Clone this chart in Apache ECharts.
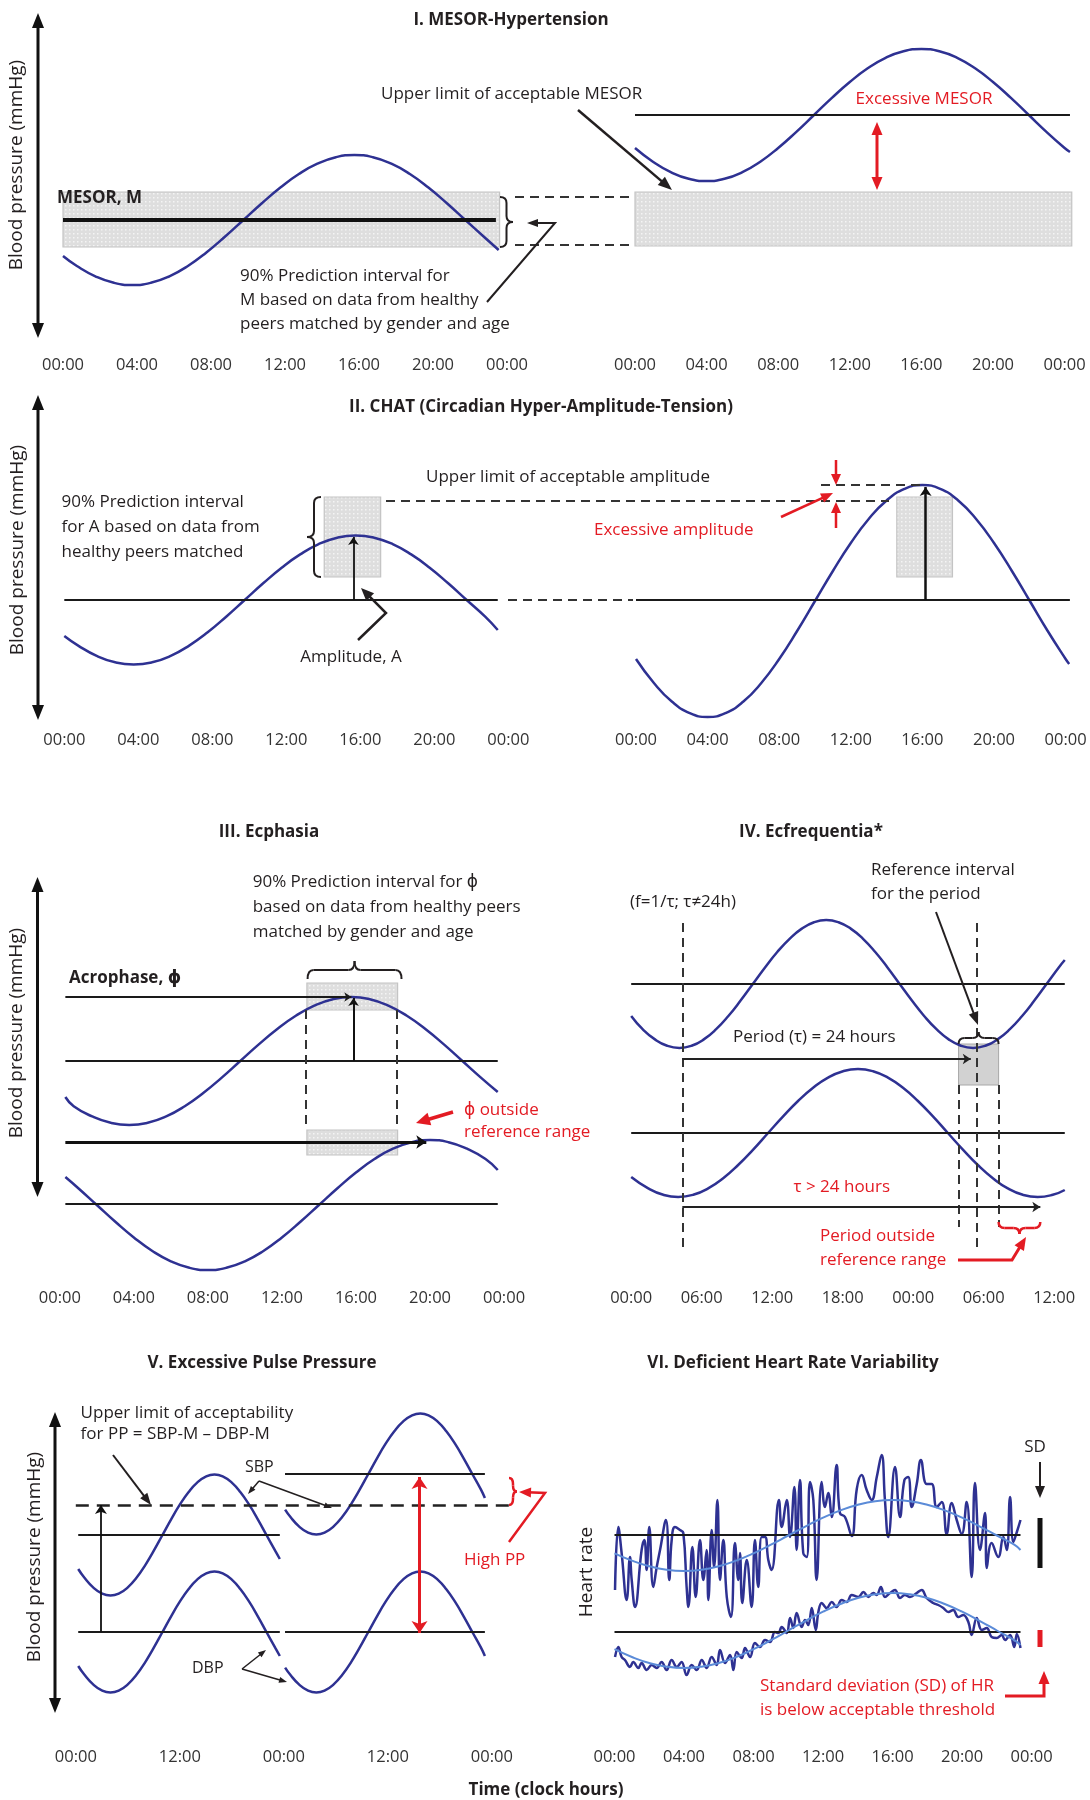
<!DOCTYPE html>
<html><head><meta charset="utf-8">
<script src="https://cdn.jsdelivr.net/npm/echarts@6/dist/echarts.min.js"></script>
<style>html,body{margin:0;padding:0;background:#fff}#c{width:1090px;height:1800px}</style>
</head><body><div id="c"></div>
<script>
// ---------------- DATA (hours, relative blood-pressure / heart-rate units) ----------------
const ticks24 = ['00:00','04:00','08:00','12:00','16:00','20:00','00:00'];
const ticks36 = ['00:00','06:00','12:00','18:00','00:00','06:00','12:00'];
const ticks48 = ['00:00','12:00','00:00','12:00','00:00'];

// I. MESOR-Hypertension
const curveI_normal = [[0,94],[0.75,84],[1.75,73.7],[2.75,67.2],[3.75,65],[4.75,67.2],[5.75,73.7],[6.75,84],[7.75,97.5],[8.75,113.2],[9.75,130],[10.75,146.8],[11.75,162.5],[12.75,176],[13.75,186.3],[14.75,192.8],[15.75,195],[16.75,192.8],[17.75,186.3],[18.75,176],[19.75,162.5],[20.75,146.8],[21.75,130],[22.75,113.2],[23.55,100]];
const curveI_high = [[0,202],[1,188.3],[2,177.8],[3,171.2],[4,169],[5,171.2],[6,177.8],[7,188.3],[8,202],[9,217.9],[10,235],[11,252.1],[12,268],[13,281.7],[14,292.2],[15,298.8],[16,301],[17,298.8],[18,292.2],[19,281.7],[20,268],[21,252.1],[22,235],[23,217.9],[24,202],[24.3,198]];
const mesorI = 130, mesorLimitI = 235;
const mesorBandI = [103, 158];

// II. CHAT
const curveII_normal = [[0,89],[0.75,79.4],[1.75,69.1],[2.75,62.7],[3.75,60.5],[4.75,62.7],[5.75,69.1],[6.75,79.4],[7.75,92.7],[8.75,108.3],[9.75,125],[10.75,141.7],[11.75,157.3],[12.75,170.6],[13.75,180.9],[14.75,187.3],[15.75,189.5],[16.75,187.3],[17.75,180.9],[18.75,170.6],[19.75,157.3],[20.75,141.7],[21.75,125],[22.75,108.3],[23.43,95]];
const curveII_high = [[0,66],[1,42],[2,23.5],[3,11.9],[4,8],[5,11.9],[6,23.5],[7,42],[8,66],[9,94],[10,124],[11,154],[12,182],[13,206],[14,224.5],[15,236.1],[16,240],[17,236.1],[18,224.5],[19,206],[20,182],[21,154],[22,124],[23,94],[24,66],[24.2,61]];
const mesorII = 125;
const ampBandII = [148, 228];
const ampPeakII = [188, 238];

// III. Ecphasia
const curveIII_normal = [[0.3,186],[0.75,176.8],[1.75,166.6],[2.75,160.2],[3.75,158],[4.75,160.2],[5.75,166.6],[6.75,176.8],[7.75,190],[8.75,205.4],[9.75,222],[10.75,238.6],[11.75,254],[12.75,267.2],[13.75,277.4],[14.75,283.8],[15.75,286],[16.75,283.8],[17.75,277.4],[18.75,267.2],[19.75,254],[20.75,238.6],[21.75,222],[22.75,205.4],[23.66,191]];
const curveIII_late = [[0.3,106],[1,94.8],[2,78],[3,61.2],[4,45.5],[5,32],[6,21.7],[7,15.2],[8,13],[9,15.2],[10,21.7],[11,32],[12,45.5],[13,61.2],[14,78],[15,94.8],[16,110.5],[17,124],[18,134.3],[19,140.8],[20,143],[21,140.8],[22,134.3],[23,124],[23.66,113]];
const mesorIII = [222, 79];
const acrophaseIII = [15.8, 19.8];
const phaseBandIII = [13.35, 18.25];

// IV. Ecfrequentia
const curveIV_24h = [[0,267],[0.97,253.8],[2.02,243.6],[3.06,237.2],[4.1,235],[5.14,237.2],[6.18,243.6],[7.23,253.8],[8.27,267],[9.31,282.4],[10.35,299],[11.39,315.6],[12.43,331],[13.48,344.2],[14.52,354.4],[15.56,360.8],[16.6,363],[17.64,360.8],[18.68,354.4],[19.73,344.2],[20.77,331],[21.81,315.6],[22.85,299],[23.89,282.4],[24.93,267],[25.98,253.8],[27.02,243.6],[28.06,237.2],[29.1,235],[30.14,237.2],[31.18,243.6],[32.23,253.8],[33.27,267],[34.31,282.4],[35.35,299],[36.39,315.6],[36.9,323]];
const curveIV_long = [[0,106],[1.45,94.6],[2.73,88.2],[4.0,86],[5.28,88.2],[6.55,94.6],[7.83,104.8],[9.1,118],[10.38,133.4],[11.65,150],[12.93,166.6],[14.2,182],[15.48,195.2],[16.75,205.4],[18.03,211.8],[19.3,214],[20.58,211.8],[21.85,205.4],[23.13,195.2],[24.4,182],[25.68,166.6],[26.95,150],[28.23,133.4],[29.5,118],[30.78,104.8],[32.05,94.6],[33.33,88.2],[34.6,86],[35.88,88.2],[36.9,93]];
const mesorIV = [299, 150];
const periodRefIV = [27.86, 31.27];
const periodMarksIV = [4.35, 29.44, 28.9, 34.82];

// V. Excessive pulse pressure
const sbpNormal = [[0.28,173],[1,164.2],[2,154.6],[3,148.6],[4,146.5],[5,148.6],[6,154.6],[7,164.2],[8,176.7],[9,191.3],[10,207],[11,222.7],[12,237.3],[13,249.8],[14,259.4],[15,265.4],[16,267.5],[17,265.4],[18,259.4],[19,249.8],[20,237.3],[21,222.7],[22,207],[23,191.3],[23.54,183]];
const dbpNormal = [[0.28,76],[1,67.2],[2,57.6],[3,51.6],[4,49.5],[5,51.6],[6,57.6],[7,67.2],[8,79.7],[9,94.3],[10,110],[11,125.7],[12,140.3],[13,152.8],[14,162.4],[15,168.4],[16,170.5],[17,168.4],[18,162.4],[19,152.8],[20,140.3],[21,125.7],[22,110],[23,94.3],[23.54,86]];
const sbpHigh = [[24.15,232.4],[24.75,225.2],[25.75,215.6],[26.75,209.6],[27.75,207.5],[28.75,209.6],[29.75,215.6],[30.75,225.2],[31.75,237.7],[32.75,252.3],[33.75,268],[34.75,283.7],[35.75,298.3],[36.75,310.8],[37.75,320.4],[38.75,326.4],[39.75,328.5],[40.75,326.4],[41.75,320.4],[42.75,310.8],[43.75,298.3],[44.75,283.7],[45.75,268],[46.75,252.3],[47.2,244]];
const dbpHigh = [[24.15,74.4],[24.75,67.2],[25.75,57.6],[26.75,51.6],[27.75,49.5],[28.75,51.6],[29.75,57.6],[30.75,67.2],[31.75,79.7],[32.75,94.3],[33.75,110],[34.75,125.7],[35.75,140.3],[36.75,152.8],[37.75,162.4],[38.75,168.4],[39.75,170.5],[40.75,168.4],[41.75,162.4],[42.75,152.8],[43.75,140.3],[44.75,125.7],[45.75,110],[46.75,94.3],[47.2,86]];
const mesorV = {sbpNormal:207, sbpHigh:268, dbp:110, ppLimit:237};

// VI. Deficient heart rate variability
const hrNormal = [[0.03,152],[0.22,215],[0.41,189],[0.7,142],[0.89,185],[0.99,162],[1.18,135],[1.56,192],[1.72,202],[1.85,172],[2.0,215],[2.23,155],[2.43,175],[2.62,192],[2.96,222],[3.15,162],[3.29,202],[3.48,215],[3.77,212],[3.96,209],[4.15,155],[4.25,135],[4.48,195],[4.67,145],[4.92,202],[5.11,162],[5.3,192],[5.4,142],[5.59,212],[5.73,175],[5.92,242],[6.07,162],[6.26,202],[6.46,145],[6.7,125],[6.93,199],[7.12,162],[7.22,189],[7.35,139],[7.61,182],[7.89,135],[8.08,202],[8.27,155],[8.47,205],[8.66,205],[8.85,182],[9.04,172],[9.46,242],[9.62,215],[9.91,242],[10.1,205],[10.35,255],[10.48,192],[10.67,262],[10.86,189],[11.06,185],[11.25,260],[11.44,242],[11.63,162],[11.92,260],[12.11,235],[12.3,249],[12.5,225],[12.78,277],[12.97,229],[13.26,225],[13.65,206],[13.94,253],[14.22,267],[14.51,252],[14.8,242],[15.09,265],[15.37,287],[15.56,242],[15.75,205],[16.14,275],[16.43,225],[16.68,262],[16.9,265],[17.1,235],[17.39,258],[17.63,282],[17.96,258],[18.25,258],[18.54,235],[18.83,240],[19.11,208],[19.4,239],[19.69,222],[19.98,208],[20.26,240],[20.55,165],[20.74,259],[21.03,192],[21.32,229],[21.42,174],[21.7,199],[22.08,185],[22.37,205],[22.57,192],[22.76,245],[22.95,200],[23.15,210],[23.36,222]];
const hrLowVar = [[0.03,85],[0.22,95],[0.41,85],[0.6,82],[0.89,75],[1.08,80],[1.37,74],[1.56,79],[1.85,72],[2.14,77],[2.43,74],[2.71,80],[3.0,72],[3.29,82],[3.58,75],[3.86,80],[4.15,67],[4.44,77],[4.73,72],[5.02,82],[5.3,74],[5.59,85],[5.88,77],[6.07,92],[6.36,79],[6.65,87],[6.84,72],[7.03,90],[7.32,84],[7.51,94],[7.8,85],[8.08,99],[8.37,95],[8.66,102],[8.95,100],[9.23,110],[9.43,109],[9.62,115],[9.91,109],[10.1,124],[10.29,114],[10.48,129],[10.77,115],[10.96,122],[11.15,117],[11.35,134],[11.58,112],[11.73,130],[11.92,139],[12.21,134],[12.5,140],[12.78,135],[13.07,142],[13.36,140],[13.65,147],[14.03,145],[14.32,150],[14.6,145],[14.89,149],[15.09,147],[15.33,155],[15.56,145],[15.85,149],[16.14,152],[16.43,144],[16.71,147],[17.0,145],[17.39,149],[17.68,152],[17.96,144],[18.34,139],[18.63,137],[18.92,134],[19.21,130],[19.49,132],[19.78,125],[20.07,127],[20.36,120],[20.55,107],[20.84,124],[21.13,112],[21.42,114],[21.7,105],[21.99,104],[22.28,107],[22.47,102],[22.76,107],[23.0,95],[23.15,108],[23.36,94]];
const hrNormalFit = [[0,188.7],[1,181.4],[2,175.8],[3,172.2],[4,171],[5,172.2],[6,175.8],[7,181.4],[8,188.7],[9,197.3],[10,206.5],[11,215.7],[12,224.3],[13,231.6],[14,237.2],[15,240.8],[16,242],[17,240.8],[18,237.2],[19,231.6],[20,224.3],[21,215.7],[22,206.5],[23,197.3],[23.36,192]];
const hrLowVarFit = [[0,92.8],[1,85],[2,79],[3,75.3],[4,74],[5,75.3],[6,79],[7,85],[8,92.8],[9,101.8],[10,111.5],[11,121.2],[12,130.3],[13,138],[14,144],[15,147.7],[16,149],[17,147.7],[18,144],[19,138],[20,130.3],[21,121.2],[22,111.5],[23,101.8],[23.36,97]];
const mesorVI = [207, 110];

// ---------------- LAYOUT / STYLE ----------------
const FONT = '"Open Sans", "DejaVu Sans", sans-serif';
const INK = '#231f20', RED = '#e31b23', NAVY = '#2e3192', FIT = '#5b8bd8';
const FS = 17;
const GR = [
  {left:63,    top:10,   pxh:18.5,  max:24,   h:340, iv:4,  ticks:ticks24},
  {left:635,   top:10,   pxh:17.9,  max:24.5, h:340, iv:4,  ticks:ticks24},
  {left:64.3,  top:385,  pxh:18.5,  max:24,   h:340, iv:4,  ticks:ticks24},
  {left:636,   top:385,  pxh:17.9,  max:24.5, h:340, iv:4,  ticks:ticks24},
  {left:59.8,  top:850,  pxh:18.51, max:24,   h:433, iv:4,  ticks:ticks24},
  {left:631.2, top:850,  pxh:11.75, max:37,   h:433, iv:6,  ticks:ticks36},
  {left:75.8,  top:1390, pxh:8.667, max:50.5, h:352, iv:12, ticks:ticks48},
  {left:614.5, top:1390, pxh:17.38, max:24,   h:352, iv:4,  ticks:ticks24}
];

// dotted grey texture for prediction-interval bands
function dotPattern(bg, dot) {
  const cv = document.createElement('canvas'); cv.width = 4; cv.height = 4;
  const cx = cv.getContext('2d'); cx.fillStyle = bg; cx.fillRect(0,0,4,4);
  cx.fillStyle = dot; cx.fillRect(1,1,1.5,1.5);
  return {image: cv, repeat: 'repeat'};
}
const REF = {color:'#1a1a1a', width:2.2};
const DASH = {color:'#333', width:2, type:[9,6]};
const BAND = {color:dotPattern('#dedede', '#f4f4f4'), borderColor:'#c4c4c4', borderWidth:1.2};

function ml(a, b, style, s1, s2, size) {
  const ls = Object.assign({type:'solid'}, style);
  return [{coord:a, symbol:s1||'none', symbolSize:size||10, lineStyle:ls}, {coord:b, symbol:s2||'none', symbolSize:size||10}];
}
function band(a, b, style) { return [{coord:a, itemStyle:style||BAND}, {coord:b}]; }
function curve(gi, data, color, w, smooth, z) {
  return {type:'line', xAxisIndex:gi, yAxisIndex:gi, data:data, smooth:smooth===undefined?true:smooth, showSymbol:false, symbol:'none',
    lineStyle:{color:color||NAVY, width:w||2.5}, z:z||3, silent:true, clip:false};
}
function marks(gi, lines, areas) {
  return {type:'line', xAxisIndex:gi, yAxisIndex:gi, data:[], silent:true, z:2,
    markLine:{silent:true, animation:false, symbol:['none','none'], label:{show:false}, lineStyle:{type:'solid'}, data:lines},
    markArea:{silent:true, animation:false, label:{show:false}, data:areas||[]}};
}

const series = [
  // I
  marks(0, [ml([0,mesorI],[23.4,mesorI],{color:'#111',width:4})], [band([0,mesorBandI[1]],[23.6,mesorBandI[0]])]),
  curve(0, curveI_normal),
  marks(1, [ml([0,mesorLimitI],[24.3,mesorLimitI],REF)], [band([0,mesorBandI[1]],[24.4,mesorBandI[0]+1])]),
  curve(1, curveI_high),
  // II
  marks(2, [ml([0,mesorII],[23.43,mesorII],REF), ml([15.63,mesorII],[15.63,ampPeakII[0]],{color:'#111',width:1.8},'none','arrow',8)],
        [band([14.05,ampBandII[1]],[17.1,ampBandII[0]])]),
  curve(2, curveII_normal),
  marks(3, [ml([0,mesorII],[24.24,mesorII],REF), ml([16.18,mesorII],[16.18,ampPeakII[1]],{color:'#111',width:2.5},'none','arrow',9)],
        [band([14.57,ampBandII[1]],[17.68,ampBandII[0]])]),
  curve(3, curveII_high),
  // III
  marks(4, [
      ml([0.3,mesorIII[0]],[23.66,mesorIII[0]],REF),
      ml([0.3,mesorIII[1]],[23.66,mesorIII[1]],REF),
      ml([0.3,286],[acrophaseIII[0]-0.05,286],REF,'none','arrow',7),
      ml([acrophaseIII[0]+0.07,mesorIII[0]],[acrophaseIII[0]+0.07,285],{color:'#111',width:2},'none','arrow',8),
      ml([0.3,141],[acrophaseIII[1],141],{color:'#111',width:3},'none','arrow',10),
      ml([13.3,273],[13.3,156],DASH),
      ml([18.18,273],[18.18,156],DASH)
    ], [band([phaseBandIII[0],300],[phaseBandIII[1],273]), band([phaseBandIII[0],153],[phaseBandIII[1],128])]),
  curve(4, curveIII_normal),
  curve(4, curveIII_late),
  // IV
  marks(5, [
      ml([0,mesorIV[0]],[36.9,mesorIV[0]],REF),
      ml([0,mesorIV[1]],[36.9,mesorIV[1]],REF),
      ml([periodMarksIV[0],360],[periodMarksIV[0],36],DASH),
      ml([periodMarksIV[1],360],[periodMarksIV[1],36],DASH),
      ml([periodRefIV[0],198],[periodRefIV[0],56],DASH),
      ml([periodRefIV[1],198],[periodRefIV[1],56],DASH),
      ml([periodMarksIV[0],224],[periodMarksIV[2],224],{color:'#222',width:1.8},'none','arrow',8),
      ml([periodMarksIV[0],76],[periodMarksIV[3],76],{color:'#222',width:1.8},'none','arrow',8)
    ], [band([periodRefIV[0],239],[periodRefIV[1],198],{color:'#d2d2d2',borderColor:'#a8a8a8',borderWidth:1})]),
  curve(5, curveIV_24h),
  curve(5, curveIV_long),
  // V
  marks(6, [
      ml([0.28,mesorV.sbpNormal],[23.54,mesorV.sbpNormal],REF),
      ml([0.28,mesorV.dbp],[23.54,mesorV.dbp],REF),
      ml([24.14,mesorV.sbpHigh],[47.2,mesorV.sbpHigh],REF),
      ml([24.14,mesorV.dbp],[47.2,mesorV.dbp],REF),
      ml([0,mesorV.ppLimit],[50.2,mesorV.ppLimit],{color:'#222',width:2.5,type:[13,8]}),
      ml([2.9,mesorV.dbp],[2.9,mesorV.ppLimit],{color:'#111',width:1.8},'none','arrow',9),
      ml([39.66,mesorV.dbp-1],[39.66,265],{color:RED,width:3},'arrow','arrow',12)
    ]),
  curve(6, sbpNormal), curve(6, dbpNormal), curve(6, sbpHigh), curve(6, dbpHigh),
  // VI
  marks(7, [ml([0,mesorVI[0]],[23.36,mesorVI[0]],REF), ml([0,mesorVI[1]],[23.36,mesorVI[1]],REF)]),
  curve(7, hrNormal, NAVY, 2.5, 0.45, 4),
  curve(7, hrLowVar, NAVY, 2.5, 0.4, 4),
  curve(7, hrNormalFit, FIT, 2, true, 5),
  curve(7, hrLowVarFit, FIT, 2, true, 5)
];

// ---------------- ANNOTATIONS ----------------
const G = [];
function text(x, y, s, o) {
  o = o || {};
  const multi = s.indexOf('\n') >= 0, lh = o.lh || 24;
  G.push({type:'text', x:x, y: multi ? y - lh/2 : y, rotation:o.rot||0, z:100, silent:true,
    style:{text:s, fill:o.color||INK, fontSize:o.size||FS, fontFamily:FONT, fontWeight:o.bold?'bold':'normal',
      align:o.align||'left', textAlign:o.align||'left',
      verticalAlign: multi?'top':'middle', textVerticalAlign: multi?'top':'middle', lineHeight:lh}});
}
function seg(pts, o) {
  o = o || {};
  G.push({type:'polyline', z:90, silent:true, shape:{points:pts},
    style:{stroke:o.color||INK, lineWidth:o.w||2, fill:null, lineDash:o.dash||null}});
}
function head(x, y, ang, len, wid, color) {
  const bx = x - len*Math.cos(ang), by = y - len*Math.sin(ang);
  const nx = -Math.sin(ang)*wid/2, ny = Math.cos(ang)*wid/2;
  G.push({type:'polygon', z:95, silent:true, shape:{points:[[x,y],[bx+nx,by+ny],[bx-nx,by-ny]]}, style:{fill:color}});
}
function arrow(pts, o) {
  o = o || {};
  const c = o.color||INK, len = o.len||11, wid = o.wid||8;
  const p = pts.map(q => q.slice()); const n = p.length;
  const ang = Math.atan2(p[n-1][1]-p[n-2][1], p[n-1][0]-p[n-2][0]);
  head(p[n-1][0], p[n-1][1], ang, len, wid, c);
  p[n-1] = [p[n-1][0]-len*0.7*Math.cos(ang), p[n-1][1]-len*0.7*Math.sin(ang)];
  if (o.both) {
    const a0 = Math.atan2(p[0][1]-p[1][1], p[0][0]-p[1][0]);
    head(p[0][0], p[0][1], a0, len, wid, c);
    p[0] = [p[0][0]-len*0.7*Math.cos(a0), p[0][1]-len*0.7*Math.sin(a0)];
  }
  seg(p, {color:c, w:o.w||2});
}
function brace(arm, tip, b0, b1, horiz, o) {
  o = o || {};
  const P = (p, q) => horiz ? [q, p] : [p, q];
  const m = (arm+tip)/2, bm = (b0+b1)/2, r = Math.min(6, (b1-b0)/4);
  const st = {stroke:o.color||INK, lineWidth:o.w||2, fill:null};
  const bez = (a, c, b) => G.push({type:'bezierCurve', z:90, silent:true, shape:{x1:a[0],y1:a[1],cpx1:c[0],cpy1:c[1],x2:b[0],y2:b[1]}, style:st});
  bez(P(arm,b0), P(m,b0), P(m,b0+r));
  seg([P(m,b0+r), P(m,bm-r)], {color:st.stroke, w:st.lineWidth});
  bez(P(m,bm-r), P(m,bm), P(tip,bm));
  bez(P(tip,bm), P(m,bm), P(m,bm+r));
  seg([P(m,bm+r), P(m,b1-r)], {color:st.stroke, w:st.lineWidth});
  bez(P(m,b1-r), P(m,b1), P(arm,b1));
}
const vtext = (x, y, s) => text(x, y, s, {rot:Math.PI/2, align:'center', size:19});
const bpArrow = (x, y0, y1) => arrow([[x,y0],[x,y1]], {both:true, w:3, len:15, wid:12, color:'#111'});
const DASHP = [9,6];

// Panel I
text(511, 20, 'I. MESOR-Hypertension', {bold:true, align:'center'});
bpArrow(38, 13, 338);
vtext(17, 165, 'Blood pressure (mmHg)');
text(57, 198, 'MESOR, M', {bold:true});
text(381, 94, 'Upper limit of acceptable MESOR');
text(240, 276, '90% Prediction interval for\nM based on data from healthy\npeers matched by gender and age', {lh:24});
brace(500, 513, 197, 247, false);
seg([[515,197],[632,197]], {dash:DASHP, color:'#333'});
seg([[515,245],[632,245]], {dash:DASHP, color:'#333'});
arrow([[487,302],[555,223],[527,223]], {w:2});
arrow([[578,110],[672,190]], {w:2.5, len:14, wid:11});
arrow([[877,122],[877,190]], {both:true, color:RED, w:3, len:13, wid:11});
text(924, 99, 'Excessive MESOR', {color:RED, align:'center'});

// Panel II
text(541, 407, 'II. CHAT (Circadian Hyper-Amplitude-Tension)', {bold:true, align:'center'});
bpArrow(38, 395, 720);
vtext(18, 550, 'Blood pressure (mmHg)');
text(61.5, 502, '90% Prediction interval\nfor A based on data from\nhealthy peers matched', {lh:25});
brace(321, 307, 497, 577, false);
seg([[386,501],[889,501]], {dash:DASHP, color:'#333'});
seg([[508,600],[633,600]], {dash:DASHP, color:'#333'});
text(351, 657, 'Amplitude, A', {align:'center'});
arrow([[358,640],[386,613],[361,588]], {w:2.5, len:13, wid:11});
text(426, 477, 'Upper limit of acceptable amplitude');
seg([[821,485],[920,485]], {dash:DASHP, color:'#333'});
arrow([[836,460],[836,485]], {color:RED, w:2.5, len:11, wid:10});
arrow([[836,528],[836,502]], {color:RED, w:2.5, len:11, wid:10});
arrow([[781,517],[833,493]], {color:RED, w:2.5, len:12, wid:10});
text(594, 530, 'Excessive amplitude', {color:RED});

// Panel III
text(269, 832, 'III. Ecphasia', {bold:true, align:'center'});
bpArrow(37.5, 877, 1197);
vtext(17, 1033, 'Blood pressure (mmHg)');
text(252.7, 882, '90% Prediction interval for \u03d5\nbased on data from healthy peers\nmatched by gender and age', {lh:25});
text(69, 978, 'Acrophase, \u03d5', {bold:true});
brace(979, 961, 307.6, 401.5, true);
arrow([[453,1112],[416,1123]], {color:RED, w:3.5, len:14, wid:13});
text(464, 1110, '\u03d5 outside\nreference range', {color:RED, lh:22});

// Panel IV
text(811, 832, 'IV. Ecfrequentia*', {bold:true, align:'center'});
text(630, 902, '(f=1/\u03c4; \u03c4\u226024h)');
text(871, 870, 'Reference interval\nfor the period', {lh:24});
arrow([[936,912],[978,1025]], {w:2, len:13, wid:10});
brace(1044, 1032, 958.6, 998.6, true);
text(733, 1037, 'Period (\u03c4) = 24 hours');
text(793.5, 1187, '\u03c4 > 24 hours', {color:RED});
brace(1222, 1234, 998.6, 1040.3, true, {color:RED, w:2.5});
arrow([[958,1260],[1012,1260],[1026,1237]], {color:RED, w:3, len:13, wid:11});
text(820, 1236, 'Period outside\nreference range', {color:RED, lh:24});

// Panel V
text(262, 1363, 'V. Excessive Pulse Pressure', {bold:true, align:'center'});
bpArrow(55, 1412, 1713);
vtext(35, 1557, 'Blood pressure (mmHg)');
text(80.6, 1413, 'Upper limit of acceptability\nfor PP = SBP-M \u2013 DBP-M', {lh:21});
arrow([[113,1455],[151,1505]], {w:2, len:12, wid:9});
text(245, 1467, 'SBP', {size:16});
arrow([[259,1481],[248,1494]], {w:1.5, len:8, wid:6});
arrow([[259,1481],[332,1508]], {w:1.5, len:8, wid:6});
text(192, 1668, 'DBP', {size:16});
arrow([[242,1669],[266,1650]], {w:1.5, len:8, wid:6});
arrow([[242,1669],[287,1682]], {w:1.5, len:8, wid:6});
brace(509, 517, 1478, 1505, false, {color:RED, w:2.5});
arrow([[509,1542],[545,1493],[519,1492]], {color:RED, w:2.5, len:12, wid:10});
text(464, 1560, 'High PP', {color:RED});
text(546, 1790, 'Time (clock hours)', {bold:true, align:'center'});

// Panel VI
text(793, 1363, 'VI. Deficient Heart Rate Variability', {bold:true, align:'center'});
vtext(587, 1572, 'Heart rate');
text(1035, 1447, 'SD', {align:'center'});
arrow([[1040,1462],[1040,1498]], {w:2, len:12, wid:10});
seg([[1040,1518],[1040,1568]], {w:5, color:'#111'});
seg([[1040,1630],[1040,1647]], {w:5, color:RED});
arrow([[1005,1696],[1044,1696],[1044,1671]], {color:RED, w:3, len:13, wid:11});
text(760, 1686, 'Standard deviation (SD) of HR\nis below acceptable threshold', {color:RED, lh:24});

// ---------------- CHART ----------------
const chart = echarts.init(document.getElementById('c'), null, {renderer:'canvas', width:1090, height:1800});
chart.setOption({
  animation:false,
  backgroundColor:'#ffffff',
  grid: GR.map(g => ({left:g.left, top:g.top, width:g.pxh*g.max, height:g.h, containLabel:false, outerBoundsMode:'none', show:false})),
  xAxis: GR.map((g, i) => ({type:'value', gridIndex:i, min:0, max:g.max, interval:g.iv,
    axisLine:{show:false}, axisTick:{show:false}, splitLine:{show:false},
    axisLabel:{margin:7, fontSize:16.5, color:'#333', fontFamily:FONT, showMinLabel:true, showMaxLabel:true,
      formatter: v => { const k = Math.round(v / g.iv); return Math.abs(k*g.iv - v) < 1e-6 && g.ticks[k] !== undefined ? g.ticks[k] : ''; }}})),
  yAxis: GR.map((g, i) => ({type:'value', gridIndex:i, min:0, max:g.h, show:false, splitLine:{show:false}})),
  series: series,
  graphic: {elements: G}
});
</script>
</body></html>
